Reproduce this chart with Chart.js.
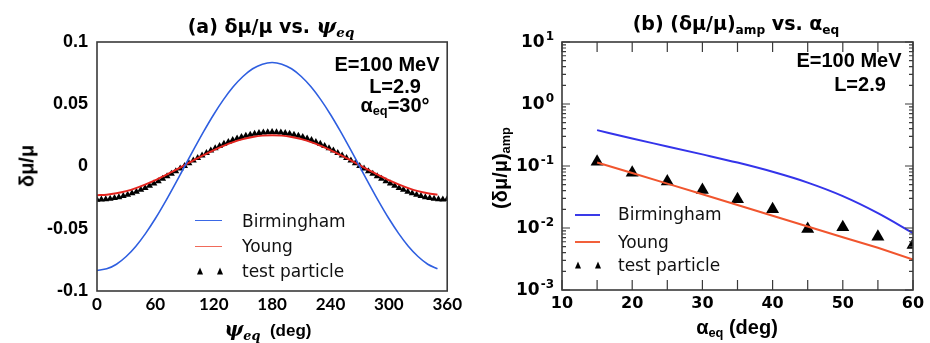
<!DOCTYPE html>
<html>
<head>
<meta charset="utf-8">
<script src="https://cdn.jsdelivr.net/npm/chart.js@4.4.1/dist/chart.umd.min.js"></script>
<style>
  body { margin: 0; width: 930px; height: 343px; background: #fff; position: relative; overflow: hidden; font-family: "Liberation Sans", Arial, sans-serif; }
  .box { position: absolute; top: 0; width: 465px; height: 343px; }
  .t { position: absolute; white-space: nowrap; transform: translate(-50%, -50%); font-weight: bold; color: #000; }
  .lg { position: absolute; white-space: nowrap; font-family: "DejaVu Sans", sans-serif; font-size: 17px; transform: translateY(-50%); color: #111; }
  .ln { position: absolute; height: 0; }
  .tri { position: absolute; width: 0; height: 0; border-left: 3.5px solid transparent; border-right: 3.5px solid transparent; border-bottom: 7px solid #000; transform: translate(-50%, -50%); }
  sub { font-size: 0.64em; vertical-align: -0.3em; line-height: 0; }
  .psi { font-family: "DejaVu Serif", serif; font-style: italic; font-weight: bold; }
</style>
</head>
<body>
<div class="box" style="left:0"><canvas id="left" width="465" height="343"></canvas></div>
<div class="box" style="left:465px"><canvas id="right" width="465" height="343"></canvas></div>

<!-- titles -->
<div class="t" style="left:271px;top:25px;font-family:'DejaVu Sans';font-size:19px">(a) δμ/μ vs. <span class="psi" style="font-size:21px">ψ<sub>eq</sub></span></div>
<div class="t" style="left:736px;top:23px;font-family:'DejaVu Sans';font-size:19px">(b) (δμ/μ)<sub>amp</sub> vs. α<sub>eq</sub></div>

<!-- axis titles -->
<div class="t" style="left:27px;top:166px;font-size:20px;transform:translate(-50%,-50%) rotate(-90deg)">δμ/μ</div>
<div class="t" style="left:268px;top:329px;font-size:17px"><span class="psi" style="font-size:20px">ψ<sub>eq</sub></span>&nbsp; (deg)</div>
<div class="t" style="left:500px;top:168px;font-size:20px;transform:translate(-50%,-50%) rotate(-90deg)">(δμ/μ)<sub>amp</sub></div>
<div class="t" style="left:737px;top:327px;font-size:20px">α<sub>eq</sub> (deg)</div>

<!-- annotations -->
<div class="t" style="left:387px;top:64px;font-size:20px">E=100 MeV</div>
<div class="t" style="left:395px;top:86px;font-size:20px">L=2.9</div>
<div class="t" style="left:395px;top:105px;font-size:20px">α<sub>eq</sub>=30°</div>
<div class="t" style="left:849px;top:60px;font-size:20px">E=100 MeV</div>
<div class="t" style="left:860px;top:84px;font-size:20px">L=2.9</div>

<!-- legends -->
<div class="ln" style="left:195px;top:220px;width:27px;border-top:1.5px solid #3a68e6"></div>
<div class="lg" style="left:242px;top:221px">Birmingham</div>
<div class="ln" style="left:195px;top:246px;width:27px;border-top:1.5px solid #f06a5a"></div>
<div class="lg" style="left:242px;top:246px">Young</div>
<div class="tri" style="left:200px;top:271px"></div>
<div class="tri" style="left:220px;top:271px"></div>
<div class="lg" style="left:242px;top:271px">test particle</div>

<div class="ln" style="left:575px;top:214px;width:25px;border-top:2px solid #3a3ae8"></div>
<div class="lg" style="left:618px;top:214px">Birmingham</div>
<div class="ln" style="left:575px;top:241px;width:25px;border-top:2px solid #f2603a"></div>
<div class="lg" style="left:618px;top:242px">Young</div>
<div class="tri" style="left:578px;top:265px"></div>
<div class="tri" style="left:598px;top:265px"></div>
<div class="lg" style="left:618px;top:265px">test particle</div>

<script>
// (a) delta mu / mu vs psi_eq
const psiModel = [0, 10, 20, 30, 40, 50, 60, 70, 80, 90, 100, 110, 120, 130, 140, 150, 160, 170,
  180, 190, 200, 210, 220, 230, 240, 250, 260, 270, 280, 290, 300, 310, 320, 330, 340, 350];
const birmingham = [-0.0835, -0.0822, -0.0785, -0.0723, -0.0640, -0.0537, -0.0418, -0.0286, -0.0145,
  0.0000, 0.0145, 0.0286, 0.0418, 0.0537, 0.0640, 0.0723, 0.0785, 0.0822,
  0.0835, 0.0822, 0.0785, 0.0723, 0.0640, 0.0537, 0.0418, 0.0286, 0.0145,
  0.0000, -0.0145, -0.0286, -0.0418, -0.0537, -0.0640, -0.0723, -0.0785, -0.0822];
const young = [-0.0230, -0.0226, -0.0215, -0.0198, -0.0174, -0.0144, -0.0110, -0.0071, -0.0031,
  0.0011, 0.0053, 0.0093, 0.0132, 0.0166, 0.0196, 0.0220, 0.0237, 0.0248,
  0.0252, 0.0248, 0.0237, 0.0220, 0.0196, 0.0166, 0.0132, 0.0093, 0.0053,
  0.0011, -0.0031, -0.0071, -0.0110, -0.0144, -0.0174, -0.0198, -0.0215, -0.0226];
const psiTest = [0, 4.5, 9, 13.5, 18, 22.5, 27, 31.5, 36, 40.5, 45, 49.5, 54, 58.5, 63, 67.5, 72, 76.5, 81, 85.5,
  90, 94.5, 99, 103.5, 108, 112.5, 117, 121.5, 126, 130.5, 135, 139.5, 144, 148.5, 153, 157.5, 162, 166.5, 171, 175.5,
  180, 184.5, 189, 193.5, 198, 202.5, 207, 211.5, 216, 220.5, 225, 229.5, 234, 238.5, 243, 247.5, 252, 256.5, 261, 265.5,
  270, 274.5, 279, 283.5, 288, 292.5, 297, 301.5, 306, 310.5, 315, 319.5, 324, 328.5, 333, 337.5, 342, 346.5, 351, 355.5, 360];
const testParticle = [-0.0267, -0.0266, -0.0264, -0.0260, -0.0254, -0.0246, -0.0237, -0.0227, -0.0215, -0.0202,
  -0.0187, -0.0172, -0.0155, -0.0137, -0.0119, -0.0099, -0.0079, -0.0059, -0.0038, -0.0016,
  0.0005, 0.0026, 0.0048, 0.0069, 0.0089, 0.0109, 0.0129, 0.0147, 0.0165, 0.0182,
  0.0197, 0.0212, 0.0225, 0.0237, 0.0247, 0.0256, 0.0264, 0.0270, 0.0274, 0.0276,
  0.0277, 0.0276, 0.0274, 0.0270, 0.0264, 0.0256, 0.0247, 0.0237, 0.0225, 0.0212,
  0.0197, 0.0182, 0.0165, 0.0147, 0.0129, 0.0109, 0.0089, 0.0069, 0.0048, 0.0026,
  0.0005, -0.0016, -0.0038, -0.0059, -0.0079, -0.0099, -0.0119, -0.0137, -0.0155, -0.0172,
  -0.0187, -0.0202, -0.0215, -0.0227, -0.0237, -0.0246, -0.0254, -0.0260, -0.0264, -0.0266, -0.0262];
const leftXTicks = [0, 60, 120, 180, 240, 300, 360];
const leftYTicks = [-0.1, -0.05, 0, 0.05, 0.1];
const leftYLabels = ['-0.1', '-0.05', '0', '0.05', '0.1'];

// (b) amplitude vs alpha_eq
const alphaEq = [15, 20, 25, 30, 35, 40, 45, 50, 55, 60];
const birminghamAmp = [0.379, 0.277, 0.207, 0.154, 0.1135, 0.0806, 0.054, 0.0327, 0.0174, 0.0083];
const youngAmp = [0.114, 0.077, 0.052, 0.035, 0.0235, 0.0158, 0.0106, 0.0071, 0.0048, 0.0031];
const testAmp = [0.117, 0.078, 0.056, 0.041, 0.029, 0.020, 0.0096, 0.0103, 0.0072, 0.0053];
const rightXTicks = [10, 15, 20, 25, 30, 35, 40, 45, 50, 55, 60];
const rightYTicks = [0.001, 0.01, 0.1, 1, 10];
const rightYExp = ['-3', '-2', '-1', '0', '1'];

const pts = (xs, ys) => xs.map((x, i) => ({ x: x, y: ys[i] }));

const boxPlugin = {
  id: 'box',
  afterDraw(chart) {
    const a = chart.chartArea, ctx = chart.ctx;
    ctx.save();
    ctx.strokeStyle = '#3a3a3a';
    ctx.lineWidth = 1.6;
    ctx.strokeRect(a.left, a.top, a.right - a.left, a.bottom - a.top);
    ctx.restore();
  }
};

// inward tick marks + power-of-ten labels for panel (b)
const innerTicks = {
  id: 'innerTicks',
  afterDraw(chart) {
    const ctx = chart.ctx, a = chart.chartArea;
    const x = chart.scales.x, y = chart.scales.y;
    ctx.save();
    ctx.strokeStyle = '#3a3a3a';
    ctx.lineWidth = 1.2;
    ctx.beginPath();
    x.ticks.forEach(t => {
      const px = x.getPixelForValue(t.value);
      ctx.moveTo(px, a.bottom); ctx.lineTo(px, a.bottom - 10);
      ctx.moveTo(px, a.top); ctx.lineTo(px, a.top + 10);
    });
    y.ticks.forEach(t => {
      const py = y.getPixelForValue(t.value);
      const len = rightYTicks.includes(t.value) ? 8 : 4;
      ctx.moveTo(a.left, py); ctx.lineTo(a.left + len, py);
      ctx.moveTo(a.right, py); ctx.lineTo(a.right - len, py);
    });
    ctx.stroke();

    ctx.fillStyle = '#000';
    ctx.textAlign = 'left';
    ctx.textBaseline = 'middle';
    rightYTicks.forEach((v, i) => {
      const py = y.getPixelForValue(v);
      ctx.font = 'bold 12px "DejaVu Sans"';
      const we = ctx.measureText(rightYExp[i]).width;
      ctx.font = 'bold 17px "DejaVu Sans"';
      const wb = ctx.measureText('10').width;
      const xr = a.left - 8;
      ctx.fillText('10', xr - we - wb - 1, py + 1);
      ctx.font = 'bold 12px "DejaVu Sans"';
      ctx.fillText(rightYExp[i], xr - we, py - 5);
    });
    ctx.restore();
  }
};

new Chart(document.getElementById('left').getContext('2d'), {
  type: 'scatter',
  data: {
    datasets: [
      { label: 'Birmingham', data: pts(psiModel, birmingham), showLine: true, pointRadius: 0,
        borderColor: '#2f5fe0', borderWidth: 1.6, tension: 0.3 },
      { label: 'Young', data: pts(psiModel, young), showLine: true, pointRadius: 0,
        borderColor: '#e3241e', borderWidth: 2, tension: 0.3 },
      { label: 'test particle', data: pts(psiTest, testParticle), pointStyle: 'triangle', pointRadius: 4,
        backgroundColor: '#000', borderColor: '#000', borderWidth: 0 }
    ]
  },
  options: {
    responsive: false,
    animation: false,
    layout: { padding: { left: 0, right: 17, top: 42, bottom: 0 } },
    plugins: { legend: { display: false }, tooltip: { enabled: false } },
    scales: {
      x: {
        type: 'linear', min: 0, max: 360,
        afterBuildTicks: s => { s.ticks = leftXTicks.map(v => ({ value: v })); },
        afterFit: s => { s.height = 52; },
        grid: { display: false, drawTicks: false },
        border: { display: false },
        ticks: { padding: 3, maxRotation: 0, autoSkip: false, color: '#000',
          font: { family: 'Lato', weight: 'bold', size: 17 } }
      },
      y: {
        type: 'linear', min: -0.1, max: 0.1,
        afterBuildTicks: s => { s.ticks = leftYTicks.map(v => ({ value: v })); },
        afterFit: s => { s.width = 97; },
        grid: { display: false, drawTicks: false },
        border: { display: false },
        ticks: { padding: 9, autoSkip: false, color: '#000',
          callback: (v, i) => leftYLabels[i],
          font: { family: 'Liberation Sans', weight: 'bold', size: 18 } }
      }
    }
  },
  plugins: [boxPlugin]
});

new Chart(document.getElementById('right').getContext('2d'), {
  type: 'scatter',
  data: {
    datasets: [
      { label: 'Birmingham', data: pts(alphaEq, birminghamAmp), showLine: true, pointRadius: 0,
        borderColor: '#3434ea', borderWidth: 2, cubicInterpolationMode: 'monotone' },
      { label: 'Young', data: pts(alphaEq, youngAmp), showLine: true, pointRadius: 0,
        borderColor: '#f1552e', borderWidth: 2, tension: 0 },
      { label: 'test particle', data: pts(alphaEq, testAmp), pointStyle: 'triangle', pointRadius: 7.5,
        backgroundColor: '#000', borderColor: '#000', borderWidth: 0 }
    ]
  },
  options: {
    responsive: false,
    animation: false,
    layout: { padding: { left: 0, right: 17, top: 42, bottom: 0 } },
    plugins: { legend: { display: false }, tooltip: { enabled: false } },
    scales: {
      x: {
        type: 'linear', min: 10, max: 60,
        afterBuildTicks: s => { s.ticks = rightXTicks.map(v => ({ value: v })); },
        afterFit: s => { s.height = 53; },
        grid: { display: false, drawTicks: false },
        border: { display: false },
        ticks: { padding: 4, maxRotation: 0, autoSkip: false, color: '#000',
          callback: v => (v % 10 === 0 ? String(v) : ''),
          font: { family: 'DejaVu Sans', weight: 'bold', size: 16 } }
      },
      y: {
        type: 'logarithmic', min: 0.001, max: 10,
        afterBuildTicks: s => {
          const t = [];
          rightYTicks.forEach((d, k) => {
            if (k === rightYTicks.length - 1) { t.push({ value: d }); return; }
            for (let m = 1; m < 10; m++) t.push({ value: m === 1 ? d : m * d });
          });
          s.ticks = t;
        },
        afterFit: s => { s.width = 97; },
        grid: { display: false, drawTicks: false },
        border: { display: false },
        ticks: { display: true, padding: 8, autoSkip: false, callback: () => '' }
      }
    }
  },
  plugins: [boxPlugin, innerTicks]
});
</script>
</body>
</html>
